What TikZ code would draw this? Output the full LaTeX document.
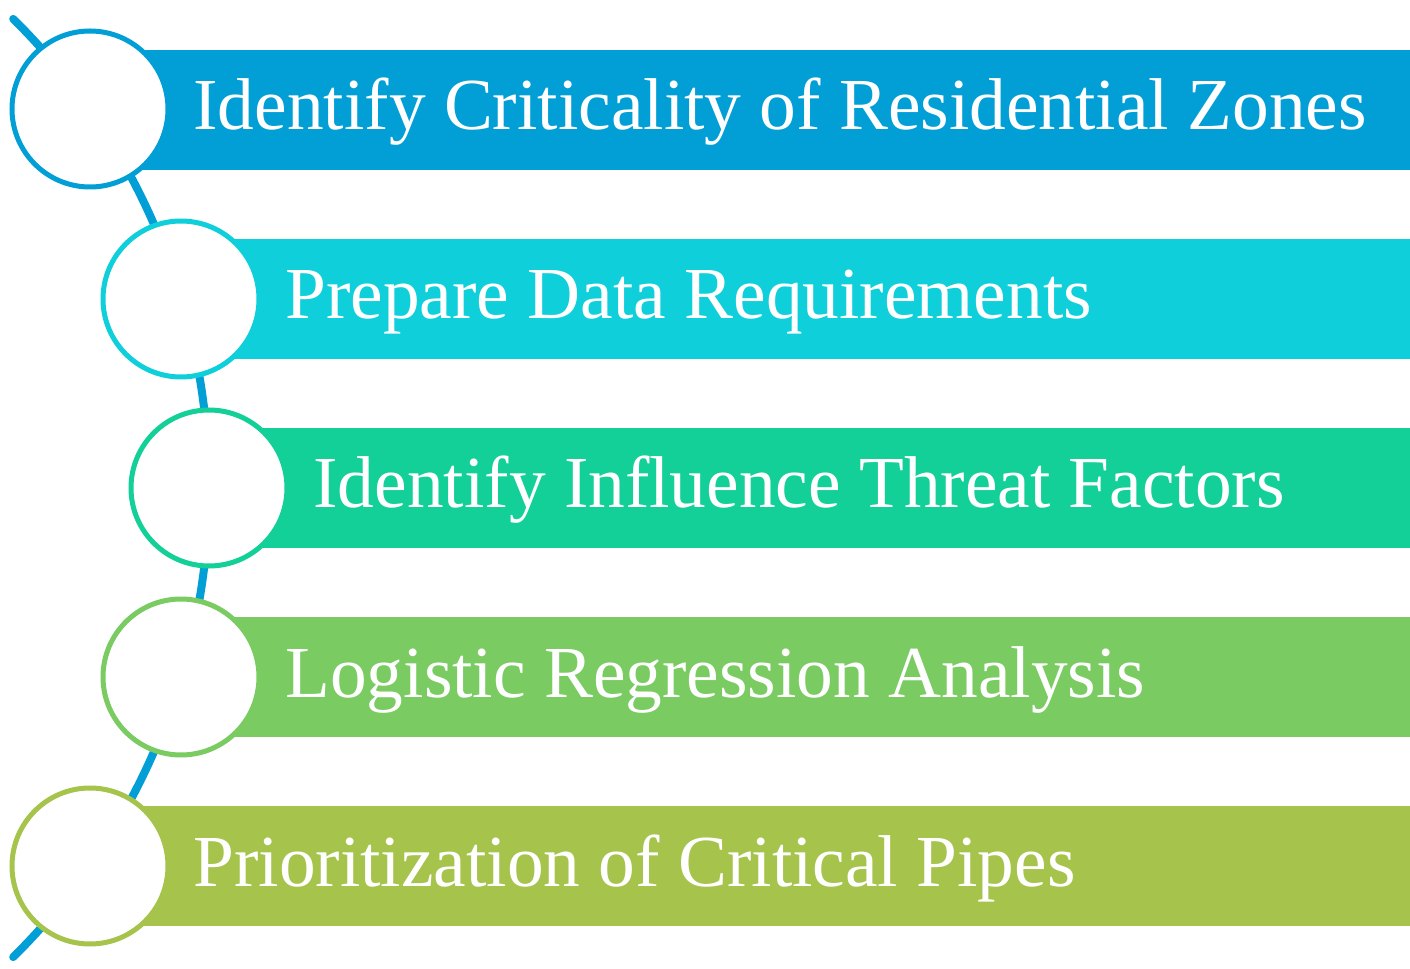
\documentclass[tikz,border=0pt]{standalone}
\usepackage{fontspec}
\setmainfont{Liberation Serif}

\definecolor{stepA}{RGB}{2,159,215}
\definecolor{stepB}{RGB}{14,207,218}
\definecolor{stepC}{RGB}{19,207,152}
\definecolor{stepD}{RGB}{122,203,98}
\definecolor{stepE}{RGB}{166,195,76}

\tikzset{every picture/.style={line width=0.75pt}}
\tikzset{
  ring/.style={circle,draw=#1,fill=white,line width=3.75pt,minimum size=117pt,inner sep=0pt},
  steplabel/.style={anchor=base west,inner sep=0pt,text=white,font=\fontsize{55}{60}\selectfont},
  spine/.style={draw=stepA,line width=6pt,line cap=round}
}

\begin{document}
\begin{tikzpicture}[x=0.75pt,y=0.75pt,yscale=-1,xscale=1]
\useasboundingbox (0,0) rectangle (1410,969);

%Curved spine behind the rings
\coordinate (hub) at (-451,488);
\draw [spine] ([shift={(-45.3:660)}]hub) arc [start angle=-45.3,end angle=45.3,radius=660];

%Bars
\fill [stepA] (93,50) rectangle (1410,170);
\fill [stepB] (181,239) rectangle (1410,359);
\fill [stepC] (209,428) rectangle (1410,548);
\fill [stepD] (181,617) rectangle (1410,737);
\fill [stepE] (90,806) rectangle (1410,926);

%Rings
\node [ring=stepA] (step1) at (90,109) {};
\node [ring=stepB] (step2) at (181,299) {};
\node [ring=stepC] (step3) at (209,488) {};
\node [ring=stepD] (step4) at (181,677) {};
\node [ring=stepE] (step5) at (90,866) {};

% Text Node
\node [steplabel] (lbl1) at (193,130) {Identify Criticality of Residential Zones};
% Text Node
\node [steplabel] (lbl2) at (285,319) {Prepare Data Requirements};
% Text Node
\node [steplabel] (lbl3) at (313,508) {Identify Influence Threat Factors};
% Text Node
\node [steplabel] (lbl4) at (285,697) {Logistic Regression Analysis};
% Text Node
\node [steplabel] (lbl5) at (193,886) {Prioritization of Critical Pipes};

\end{tikzpicture}
\end{document}
